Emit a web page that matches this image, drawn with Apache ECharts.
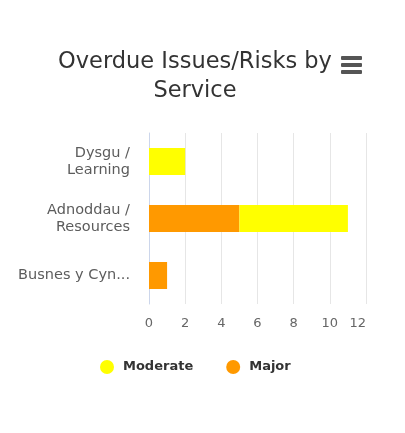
<!DOCTYPE html>
<html><head><meta charset="utf-8">
<script src="https://cdn.jsdelivr.net/npm/echarts@6/dist/echarts.min.js"></script>
<style>html,body{margin:0;padding:0;background:#fff}#c{width:405px;height:433px}</style>
</head><body><div id="c"></div>
<script>
const categories = ['Dysgu / Learning', 'Adnoddau / Resources', 'Busnes y Cyn...'];
const majorValues = [0, 5, 1];
const moderateValues = [2, 6, 0];
const xTicks = [0, 2, 4, 6, 8, 10, 12];
const titleText = 'Overdue Issues/Risks by\nService';
const FONT = 'DejaVu Sans';

const chart = echarts.init(document.getElementById('c'));
chart.setOption({
  backgroundColor: '#ffffff',
  animation: false,
  title: {
    text: titleText,
    left: 190, top: 43, textAlign: 'center',
    textStyle: { fontFamily: FONT, fontSize: 22.5, fontWeight: 'normal', color: '#333333', lineHeight: 29 }
  },
  legend: {
    data: ['Moderate', 'Major'],
    top: 355, left: 95,
    icon: 'circle', itemWidth: 22, itemHeight: 14, itemGap: 33,
    textStyle: { fontFamily: FONT, fontSize: 13, fontWeight: 'bold', color: '#333333' }
  },
  grid: { left: 149, right: 39, top: 133, bottom: 129, containLabel: false },
  xAxis: {
    type: 'value', min: 0, max: 12, interval: 2,
    axisLine: { show: false }, axisTick: { show: false },
    splitLine: { lineStyle: { color: '#e6e6e6' } },
    axisLabel: { fontFamily: FONT, fontSize: 13, color: '#666666', margin: 13, alignMaxLabel: 'right',
      formatter: v => xTicks.includes(v) ? String(v) : '' }
  },
  yAxis: {
    type: 'category', data: categories, inverse: true,
    axisLine: { lineStyle: { color: '#ccd6eb' } }, axisTick: { show: false },
    axisLabel: { fontFamily: FONT, fontSize: 14.5, color: '#5c5c5c', margin: 19, align: 'right', lineHeight: 17,
      formatter: v => v.replace(' / ', ' /\n') }
  },
  series: [
    { name: 'Major', type: 'bar', stack: 's', data: majorValues, barWidth: 27,
      itemStyle: { color: '#ff9900' } },
    { name: 'Moderate', type: 'bar', stack: 's', data: moderateValues, barWidth: 27,
      itemStyle: { color: '#ffff00' } }
  ],
  graphic: [{
    type: 'group', left: 341, top: 56,
    children: [0, 7, 14].map(y => ({ type: 'rect', shape: { x: 0, y: y, width: 21, height: 4, r: 1 }, style: { fill: '#555555' } }))
  }]
});
</script></body></html>
